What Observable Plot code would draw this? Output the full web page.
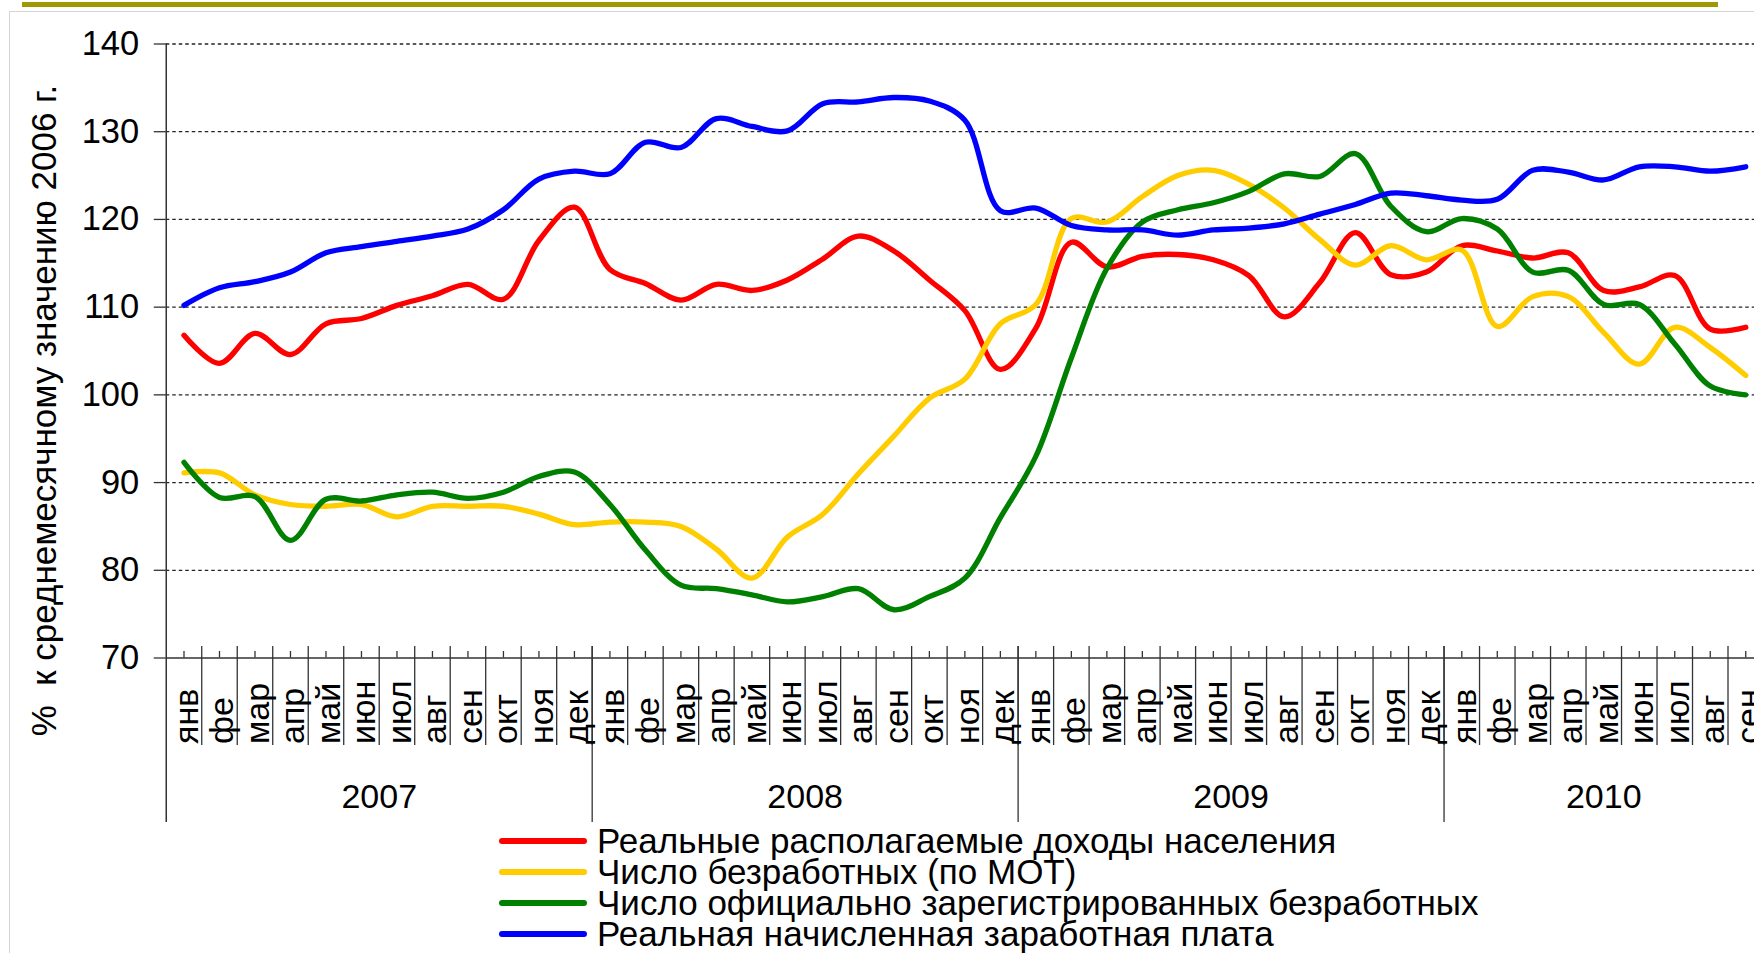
<!DOCTYPE html>
<html><head><meta charset="utf-8">
<script src="https://cdn.jsdelivr.net/npm/d3@7"></script>
<script src="https://cdn.jsdelivr.net/npm/@observablehq/plot@0.6"></script>
<style>
html,body{margin:0;padding:0;background:#fff;overflow:hidden;width:1754px;height:953px;}
#chart{position:absolute;left:0;top:0;}
.olive{position:absolute;left:22px;top:2px;width:1696px;height:5px;background:#9c9a00;}
.frame{position:absolute;left:9px;top:11px;right:-5px;bottom:-5px;border-top:1px solid #d4d4d4;border-left:1px solid #d4d4d4;}
#legend{position:absolute;left:499px;top:825px;font-family:"Liberation Sans",Arial,sans-serif;font-size:35px;color:#000;}
.row{display:flex;align-items:center;height:31px;white-space:nowrap;}
.sw{width:88px;height:6px;border-radius:3px;margin-right:10px;flex:none;}
</style></head><body>
<div class="frame"></div><div class="olive"></div>
<div id="chart"></div><div id="legend"></div>
<script>
// ---- data ----
const monthLabels = ["янв","фе","мар","апр","май","июн","июл","авг","сен","окт","ноя","дек"];
const years = [2007, 2008, 2009, 2010];
const monthsPerYear = [12, 12, 12, 9];
const yTicks = [70, 80, 90, 100, 110, 120, 130, 140];
const yTitle = "%  к среднемесячному значению 2006 г.";

const seriesNames = [
  "Реальные располагаемые доходы населения",
  "Число безработных (по МОТ)",
  "Число официально зарегистрированных безработных",
  "Реальная начисленная заработная плата"
];
const seriesColors = ["#ff0000", "#ffcc00", "#008000", "#0000ff"];

const income = [
  106.8, 103.6, 107.0, 104.6, 108.1, 108.7, 110.2, 111.3, 112.6, 110.9, 117.6, 121.4,
  114.3, 112.7, 110.8, 112.6, 111.9, 113.1, 115.5, 118.1, 116.4, 113.1, 109.6, 102.9,
  107.6, 117.4, 114.6, 115.8, 116.0, 115.4, 113.6, 108.9, 112.8, 118.5, 113.7, 114.0,
  117.0, 116.4, 115.6, 116.2, 111.9, 112.3, 113.6, 107.5, 107.7
];
const unemployedILO = [
  91.1, 91.1, 88.6, 87.5, 87.3, 87.5, 86.1, 87.3, 87.3, 87.3, 86.4, 85.2,
  85.5, 85.5, 85.0, 82.4, 79.1, 83.8, 86.4, 91.0, 95.3, 99.6, 101.8, 108.1,
  110.3, 120.1, 119.7, 122.6, 125.0, 125.6, 124.0, 121.3, 117.7, 114.8, 117.0, 115.4,
  116.5, 107.8, 111.2, 111.2, 107.1, 103.5, 107.7, 105.4, 102.2
];
const registered = [
  92.3, 88.3, 88.4, 83.4, 88.1, 87.9, 88.6, 88.9, 88.2, 88.9, 90.7, 91.2,
  87.5, 82.3, 78.3, 77.9, 77.2, 76.4, 77.0, 77.9, 75.5, 77.0, 79.1, 86.0,
  93.0, 104.2, 114.4, 119.7, 121.1, 121.9, 123.2, 125.2, 124.9, 127.5, 121.5, 118.6,
  120.1, 118.9, 114.0, 114.2, 110.3, 110.3, 105.8, 101.0, 100.0
];
const wages = [
  110.2, 112.2, 112.9, 114.0, 116.2, 116.9, 117.5, 118.1, 118.9, 121.1, 124.6, 125.5,
  125.2, 128.8, 128.2, 131.5, 130.6, 130.1, 133.2, 133.4, 133.9, 133.5, 131.3, 121.0,
  121.3, 119.3, 118.8, 118.8, 118.2, 118.8, 119.0, 119.5, 120.6, 121.7, 123.0, 122.7,
  122.2, 122.3, 125.6, 125.4, 124.5, 126.0, 126.0, 125.5, 126.0
];
const seriesValues = [income, unemployedILO, registered, wages];

// ---- derived tables ----
const periods = [];
years.forEach((yr, k) => {
  for (let m = 0; m < monthsPerYear[k]; m++) periods.push({i: periods.length, month: monthLabels[m], year: yr});
});
const N = periods.length;
const yearRows = years.map((yr, k) => {
  const idx = periods.filter(p => p.year === yr).map(p => p.i);
  return {year: String(yr), center: (idx[0] + idx[idx.length - 1]) / 2, end: idx[idx.length - 1] + 0.5};
});
const monthBounds = periods.map(p => p.i + 0.5);
const yearBounds = yearRows.slice(0, -1).map(r => r.end);

const FONT = '"Liberation Sans", Arial, sans-serif';
const axisColor = "#333";

const lineMarks = seriesValues.map((vals, s) =>
  Plot.line(vals, {x: (d, i) => i, y: d => d, stroke: seriesColors[s], strokeWidth: 5.3,
    curve: "catmull-rom", strokeLinejoin: "round", strokeLinecap: "round"})
);

const chart = Plot.plot({
  width: 1763, height: 830,
  marginLeft: 165.75, marginRight: 0, marginTop: 43.5, marginBottom: 172.5,
  x: {type: "linear", domain: [-0.5, N - 0.5], axis: null},
  y: {domain: [70, 140], axis: null},
  style: {fontFamily: FONT, fontSize: "34px", background: "transparent", maxWidth: "none", color: "#000"},
  marks: [
    Plot.ruleY(yTicks.filter(v => v > 70), {stroke: "#222", strokeWidth: 1.3, strokeDasharray: "3.5,3"}),
    Plot.axisY(yTicks, {tickSize: 12, tickPadding: 15, fontSize: 34.5, stroke: axisColor, strokeWidth: 1.3, label: null}),
    Plot.ruleY([70], {stroke: axisColor, strokeWidth: 1.5}),
    Plot.ruleX([-0.5], {stroke: axisColor, strokeWidth: 1.5, insetBottom: -164.5}),
    Plot.ruleX(monthBounds, {stroke: axisColor, strokeWidth: 1.3, insetTop: 602.5, insetBottom: -87.5}),
    Plot.ruleX(yearBounds, {stroke: axisColor, strokeWidth: 1.3, insetTop: 602.5, insetBottom: -164.5}),
    Plot.ruleX(periods, {x: "i", stroke: axisColor, strokeWidth: 1.3, insetTop: 607.5}),
    Plot.text(periods, {x: "i", text: "month", frameAnchor: "bottom", rotate: -90, textAnchor: "start",
      lineAnchor: "middle", dy: 86, dx: 3, fontSize: 34, fill: "#000"}),
    Plot.text(yearRows, {x: "center", text: "year", frameAnchor: "bottom", lineAnchor: "middle",
      dy: 139, fontSize: 34, fill: "#000"}),
    Plot.text([yTitle], {text: d => d, frameAnchor: "left", rotate: -90, textAnchor: "middle",
      lineAnchor: "middle", dx: -121.75, dy: 59.5, fontSize: 35, fill: "#000"}),
    ...lineMarks
  ]
});
document.getElementById("chart").appendChild(chart);

const legend = document.getElementById("legend");
seriesNames.forEach((name, s) => {
  const row = document.createElement("div");
  row.className = "row";
  const sw = document.createElement("span");
  sw.className = "sw";
  sw.style.background = seriesColors[s];
  const tx = document.createElement("span");
  tx.textContent = name;
  row.appendChild(sw); row.appendChild(tx);
  legend.appendChild(row);
});
</script>
</body></html>
